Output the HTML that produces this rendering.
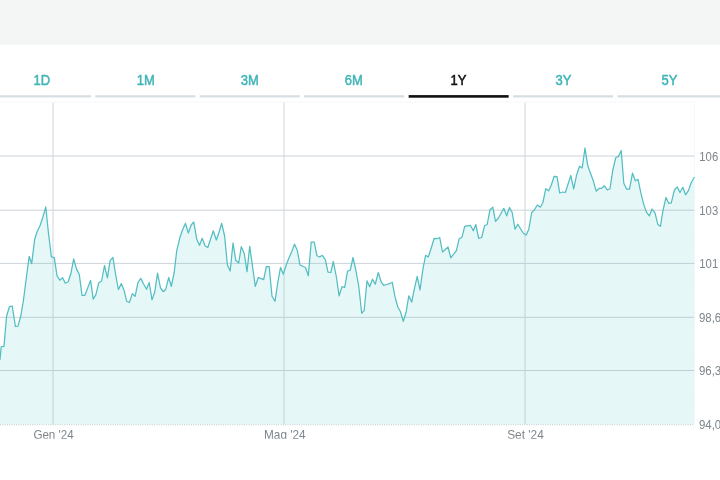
<!DOCTYPE html>
<html lang="it">
<head>
<meta charset="utf-8">
<title>Grafico</title>
<style>
html,body{margin:0;padding:0;background:#fff;}
body{width:720px;height:480px;overflow:hidden;position:relative;font-family:"Liberation Sans",sans-serif;}
.page{position:absolute;left:0;top:0;width:720px;height:480px;overflow:hidden;will-change:transform;opacity:0.9999;}
.band{position:absolute;left:0;top:0;width:720px;height:45px;background:#f4f6f5;}
.tabs{position:absolute;left:-9.15px;top:45px;height:53px;width:740px;white-space:nowrap;}
.tab{position:absolute;top:0;height:50.2px;width:100px;text-align:center;color:#41b5b9;font-size:15.5px;line-height:16px;}
.tab span{display:inline-block;position:relative;margin-top:27px;transform:scaleX(.84);transform-origin:50% 50%;-webkit-text-stroke:0.55px currentColor;}
.tab.on{color:#111;}
.chart{position:absolute;left:0;top:0;width:720px;height:480px;overflow:hidden;}
svg text{font-family:"Liberation Sans",sans-serif;font-size:13px;fill:#7d868c;}
</style>
</head>
<body>
<div class="page">
<div class="band"></div>
<div class="tabs">
<div class="tab" style="left:0"><span style="left:1px">1D</span></div>
<div class="tab" style="left:104.45px"><span>1M</span></div>
<div class="tab" style="left:208.9px"><span>3M</span></div>
<div class="tab" style="left:313.35px"><span>6M</span></div>
<div class="tab on" style="left:417.8px"><span>1Y</span></div>
<div class="tab" style="left:522.25px"><span>3Y</span></div>
<div class="tab" style="left:626.7px;width:106px"><span style="left:-1px">5Y</span></div>
</div>
<div class="chart">
<svg width="720" height="480" viewBox="0 0 720 480">
<g>
<rect x="-9.15" y="95.2" width="100" height="2.3" fill="#d7dfe3"/>
<rect x="95.30" y="95.2" width="100" height="2.3" fill="#d7dfe3"/>
<rect x="199.75" y="95.2" width="100" height="2.3" fill="#d7dfe3"/>
<rect x="304.20" y="95.2" width="100" height="2.3" fill="#d7dfe3"/>
<rect x="408.65" y="95.1" width="100" height="2.6" fill="#111111"/>
<rect x="513.10" y="95.2" width="100" height="2.3" fill="#d7dfe3"/>
<rect x="617.55" y="95.2" width="110" height="2.3" fill="#d7dfe3"/>
</g>
<g stroke="#ccd3d8" stroke-width="1" fill="none">
<path d="M0 156H694.5M0 210.2H694.5M0 263.4H694.5M0 317.3H694.5M0 370.5H694.5"/>
</g>
<g stroke="#d1d7db" stroke-width="1" fill="none">
<path d="M53 102.5V424.5M284 102.5V424.5M525 102.5V424.5"/>
</g>
<g stroke="#e8ecef" stroke-width="1" stroke-dasharray="1 1.5" fill="none">
<path d="M0 102H694.5M694.5 102V424.5"/>
</g>
<path d="M0 424.7H694.5" stroke="#c3cace" stroke-width="1" stroke-dasharray="1 1.3" fill="none"/>
<path d="M0 359.5 L1.2 346.7 L4 346.4 L6.6 316 L9.4 306.7 L12.2 306 L15.4 326.4 L18 326.2 L20.8 316 L23.4 300.5 L26.3 278 L29.2 256.3 L31.7 263.7 L34.7 239.2 L37 231.7 L40 225.8 L43 216.7 L45.8 207 L48.3 231.7 L51.4 256.9 L54.3 257.7 L57 275.6 L59.8 280.2 L62.5 277.6 L65.3 283.2 L68.2 281.8 L70.9 273.5 L73.7 258.8 L76.4 268.6 L79.3 274.5 L82 295.3 L84.9 295.3 L87.8 287.8 L90.6 280.4 L93.2 299.1 L95.9 294.6 L98.8 282.7 L101.6 281 L104.5 265.5 L107.4 277.8 L110.1 260.6 L112.9 257.5 L115.7 275 L118.4 289.5 L121.3 283.6 L124 290.2 L126.7 301.3 L129.4 302.5 L132.4 293.6 L135.1 296.3 L138 282.5 L140.8 278.4 L143.6 284 L146.5 289.3 L149.2 282.5 L152 299.9 L154.8 292 L157.5 273.1 L160.5 288 L163.3 291.7 L165.8 289.2 L168.7 277.5 L171.3 286.3 L174.2 272.5 L176.7 250.8 L179.7 238.3 L182.5 230 L185.5 223.3 L188.3 233 L191.2 225 L193.8 222 L196.7 239.2 L199.5 245.3 L202.2 238.3 L205 245.8 L207.8 247.5 L210.5 239.2 L213.3 230.8 L216.3 240 L219.2 231.7 L221.7 223.3 L224.6 236 L227.4 265 L230.2 271 L233 243 L235.8 260.3 L238.7 263 L241.3 246.7 L244.2 253.3 L247 271.7 L249.7 246.3 L252.5 266.3 L255.3 286.3 L258.3 277.5 L261.2 278.7 L263.7 279.7 L266.3 266.7 L269.2 266.7 L272 296.3 L275 301.3 L277.8 282.5 L280.5 267.5 L283.3 274.2 L286.2 265 L288.8 258.3 L291.7 251.7 L294.5 244.2 L297.2 250 L300 265 L302.8 266.2 L305.5 267.5 L308.3 275.8 L311.2 242.2 L314.2 242.2 L317 255.8 L319.7 257 L322.2 255.3 L325.3 259.7 L328 272.2 L330.8 272.5 L333.3 261.5 L336.3 276.5 L339.1 295.8 L342 286.7 L344.7 287.5 L347.5 271.3 L350.3 270 L353 257.5 L355.8 270 L358.7 285.8 L361.7 313.3 L364.2 310.3 L367 280.8 L369.7 286.7 L372.5 279.2 L375.3 284.2 L378.3 272.5 L381.2 282 L383.7 285.3 L386.7 284.5 L389.5 283.7 L392.2 282.2 L395 296.7 L397.8 307 L400.5 311.7 L403.3 321.3 L406.2 311.7 L408.8 295.8 L411.7 302 L414.5 288.3 L417.2 276.3 L420 290 L422.8 270 L425.6 255.3 L428.3 257 L431.3 247.8 L434.2 238.3 L437 238.7 L439.7 237.5 L442.5 252 L445.3 249.5 L448 247 L450.8 257.8 L453.7 254.2 L456.3 250.8 L459.2 238.7 L462 237.2 L464.7 226.3 L467.5 225.8 L470.3 225.3 L473.3 230.8 L475.8 224.5 L478.7 238.3 L481.7 237.5 L484.5 225.8 L487.2 224.5 L490 209.7 L492.8 207.2 L495.5 221.3 L498.3 218.3 L501.2 213 L503.8 208.3 L506.7 215.8 L509.5 207.5 L512.2 212.5 L515 229.2 L517.8 224.2 L520.5 228.7 L523.3 233.3 L526.2 235 L528.8 229.2 L531.7 212.5 L534.5 209.7 L537.3 205 L540.4 207.2 L542.9 202.5 L545.8 188.7 L548.7 190.8 L551.3 185 L554.2 176.3 L557 176.7 L559.7 193 L562.5 192 L565.3 192.5 L568 184.2 L570.8 175.5 L573.7 188.8 L576.7 174.7 L579.5 166.2 L582.2 168 L585 148 L587.8 165.8 L590.5 173.3 L593.3 180.8 L596.2 191.2 L599.2 188.3 L601.7 188.3 L604.5 185.8 L607.2 190 L610 188.7 L612.8 170 L615.8 157.5 L618.3 156.7 L621.2 150.5 L623.8 183.3 L626.7 189.2 L629.5 189.2 L632.5 173.2 L635.3 180.8 L638 179.4 L640.9 193.2 L643.8 204.6 L646.4 212.1 L649.3 215.9 L652 209.1 L655 212.8 L657.8 224.4 L660.4 226.3 L663.1 210 L666 197.5 L668.8 203.5 L671.3 202.8 L674.4 190 L677.3 186.9 L680 192.5 L682.8 187.3 L685.6 194.8 L688.4 190.6 L691.3 182.5 L694.2 177.5 L694.2 424.3 L0 424.3 Z" fill="#4cc6c6" fill-opacity="0.14" stroke="none"/>
<path d="M0 359.5 L1.2 346.7 L4 346.4 L6.6 316 L9.4 306.7 L12.2 306 L15.4 326.4 L18 326.2 L20.8 316 L23.4 300.5 L26.3 278 L29.2 256.3 L31.7 263.7 L34.7 239.2 L37 231.7 L40 225.8 L43 216.7 L45.8 207 L48.3 231.7 L51.4 256.9 L54.3 257.7 L57 275.6 L59.8 280.2 L62.5 277.6 L65.3 283.2 L68.2 281.8 L70.9 273.5 L73.7 258.8 L76.4 268.6 L79.3 274.5 L82 295.3 L84.9 295.3 L87.8 287.8 L90.6 280.4 L93.2 299.1 L95.9 294.6 L98.8 282.7 L101.6 281 L104.5 265.5 L107.4 277.8 L110.1 260.6 L112.9 257.5 L115.7 275 L118.4 289.5 L121.3 283.6 L124 290.2 L126.7 301.3 L129.4 302.5 L132.4 293.6 L135.1 296.3 L138 282.5 L140.8 278.4 L143.6 284 L146.5 289.3 L149.2 282.5 L152 299.9 L154.8 292 L157.5 273.1 L160.5 288 L163.3 291.7 L165.8 289.2 L168.7 277.5 L171.3 286.3 L174.2 272.5 L176.7 250.8 L179.7 238.3 L182.5 230 L185.5 223.3 L188.3 233 L191.2 225 L193.8 222 L196.7 239.2 L199.5 245.3 L202.2 238.3 L205 245.8 L207.8 247.5 L210.5 239.2 L213.3 230.8 L216.3 240 L219.2 231.7 L221.7 223.3 L224.6 236 L227.4 265 L230.2 271 L233 243 L235.8 260.3 L238.7 263 L241.3 246.7 L244.2 253.3 L247 271.7 L249.7 246.3 L252.5 266.3 L255.3 286.3 L258.3 277.5 L261.2 278.7 L263.7 279.7 L266.3 266.7 L269.2 266.7 L272 296.3 L275 301.3 L277.8 282.5 L280.5 267.5 L283.3 274.2 L286.2 265 L288.8 258.3 L291.7 251.7 L294.5 244.2 L297.2 250 L300 265 L302.8 266.2 L305.5 267.5 L308.3 275.8 L311.2 242.2 L314.2 242.2 L317 255.8 L319.7 257 L322.2 255.3 L325.3 259.7 L328 272.2 L330.8 272.5 L333.3 261.5 L336.3 276.5 L339.1 295.8 L342 286.7 L344.7 287.5 L347.5 271.3 L350.3 270 L353 257.5 L355.8 270 L358.7 285.8 L361.7 313.3 L364.2 310.3 L367 280.8 L369.7 286.7 L372.5 279.2 L375.3 284.2 L378.3 272.5 L381.2 282 L383.7 285.3 L386.7 284.5 L389.5 283.7 L392.2 282.2 L395 296.7 L397.8 307 L400.5 311.7 L403.3 321.3 L406.2 311.7 L408.8 295.8 L411.7 302 L414.5 288.3 L417.2 276.3 L420 290 L422.8 270 L425.6 255.3 L428.3 257 L431.3 247.8 L434.2 238.3 L437 238.7 L439.7 237.5 L442.5 252 L445.3 249.5 L448 247 L450.8 257.8 L453.7 254.2 L456.3 250.8 L459.2 238.7 L462 237.2 L464.7 226.3 L467.5 225.8 L470.3 225.3 L473.3 230.8 L475.8 224.5 L478.7 238.3 L481.7 237.5 L484.5 225.8 L487.2 224.5 L490 209.7 L492.8 207.2 L495.5 221.3 L498.3 218.3 L501.2 213 L503.8 208.3 L506.7 215.8 L509.5 207.5 L512.2 212.5 L515 229.2 L517.8 224.2 L520.5 228.7 L523.3 233.3 L526.2 235 L528.8 229.2 L531.7 212.5 L534.5 209.7 L537.3 205 L540.4 207.2 L542.9 202.5 L545.8 188.7 L548.7 190.8 L551.3 185 L554.2 176.3 L557 176.7 L559.7 193 L562.5 192 L565.3 192.5 L568 184.2 L570.8 175.5 L573.7 188.8 L576.7 174.7 L579.5 166.2 L582.2 168 L585 148 L587.8 165.8 L590.5 173.3 L593.3 180.8 L596.2 191.2 L599.2 188.3 L601.7 188.3 L604.5 185.8 L607.2 190 L610 188.7 L612.8 170 L615.8 157.5 L618.3 156.7 L621.2 150.5 L623.8 183.3 L626.7 189.2 L629.5 189.2 L632.5 173.2 L635.3 180.8 L638 179.4 L640.9 193.2 L643.8 204.6 L646.4 212.1 L649.3 215.9 L652 209.1 L655 212.8 L657.8 224.4 L660.4 226.3 L663.1 210 L666 197.5 L668.8 203.5 L671.3 202.8 L674.4 190 L677.3 186.9 L680 192.5 L682.8 187.3 L685.6 194.8 L688.4 190.6 L691.3 182.5 L694.2 177.5" fill="none" stroke="#53bec2" stroke-width="1.25" stroke-linejoin="round" stroke-linecap="round"/>
<g>
<text x="699.3" y="160.7" textLength="18.9" lengthAdjust="spacingAndGlyphs">106</text>
<text x="699.3" y="214.9" textLength="18.9" lengthAdjust="spacingAndGlyphs">103</text>
<text x="699.3" y="268.1" textLength="18.9" lengthAdjust="spacingAndGlyphs">101</text>
<text x="699" y="322" textLength="22.2" lengthAdjust="spacingAndGlyphs">98,6</text>
<text x="699" y="375.2" textLength="22.2" lengthAdjust="spacingAndGlyphs">96,3</text>
<text x="699" y="429.4" textLength="22.2" lengthAdjust="spacingAndGlyphs">94,0</text>
</g>
<clipPath id="cp"><rect x="0" y="0" width="720" height="438.7"/></clipPath>
<g clip-path="url(#cp)">
<text x="33.4" y="439.2" textLength="40.2" lengthAdjust="spacingAndGlyphs">Gen '24</text>
<text x="264" y="439.2" textLength="41.6" lengthAdjust="spacingAndGlyphs">Mag '24</text>
<text x="507.2" y="439.2" textLength="36.6" lengthAdjust="spacingAndGlyphs">Set '24</text>
</g>
</svg>
</div>
</div>
</body>
</html>
